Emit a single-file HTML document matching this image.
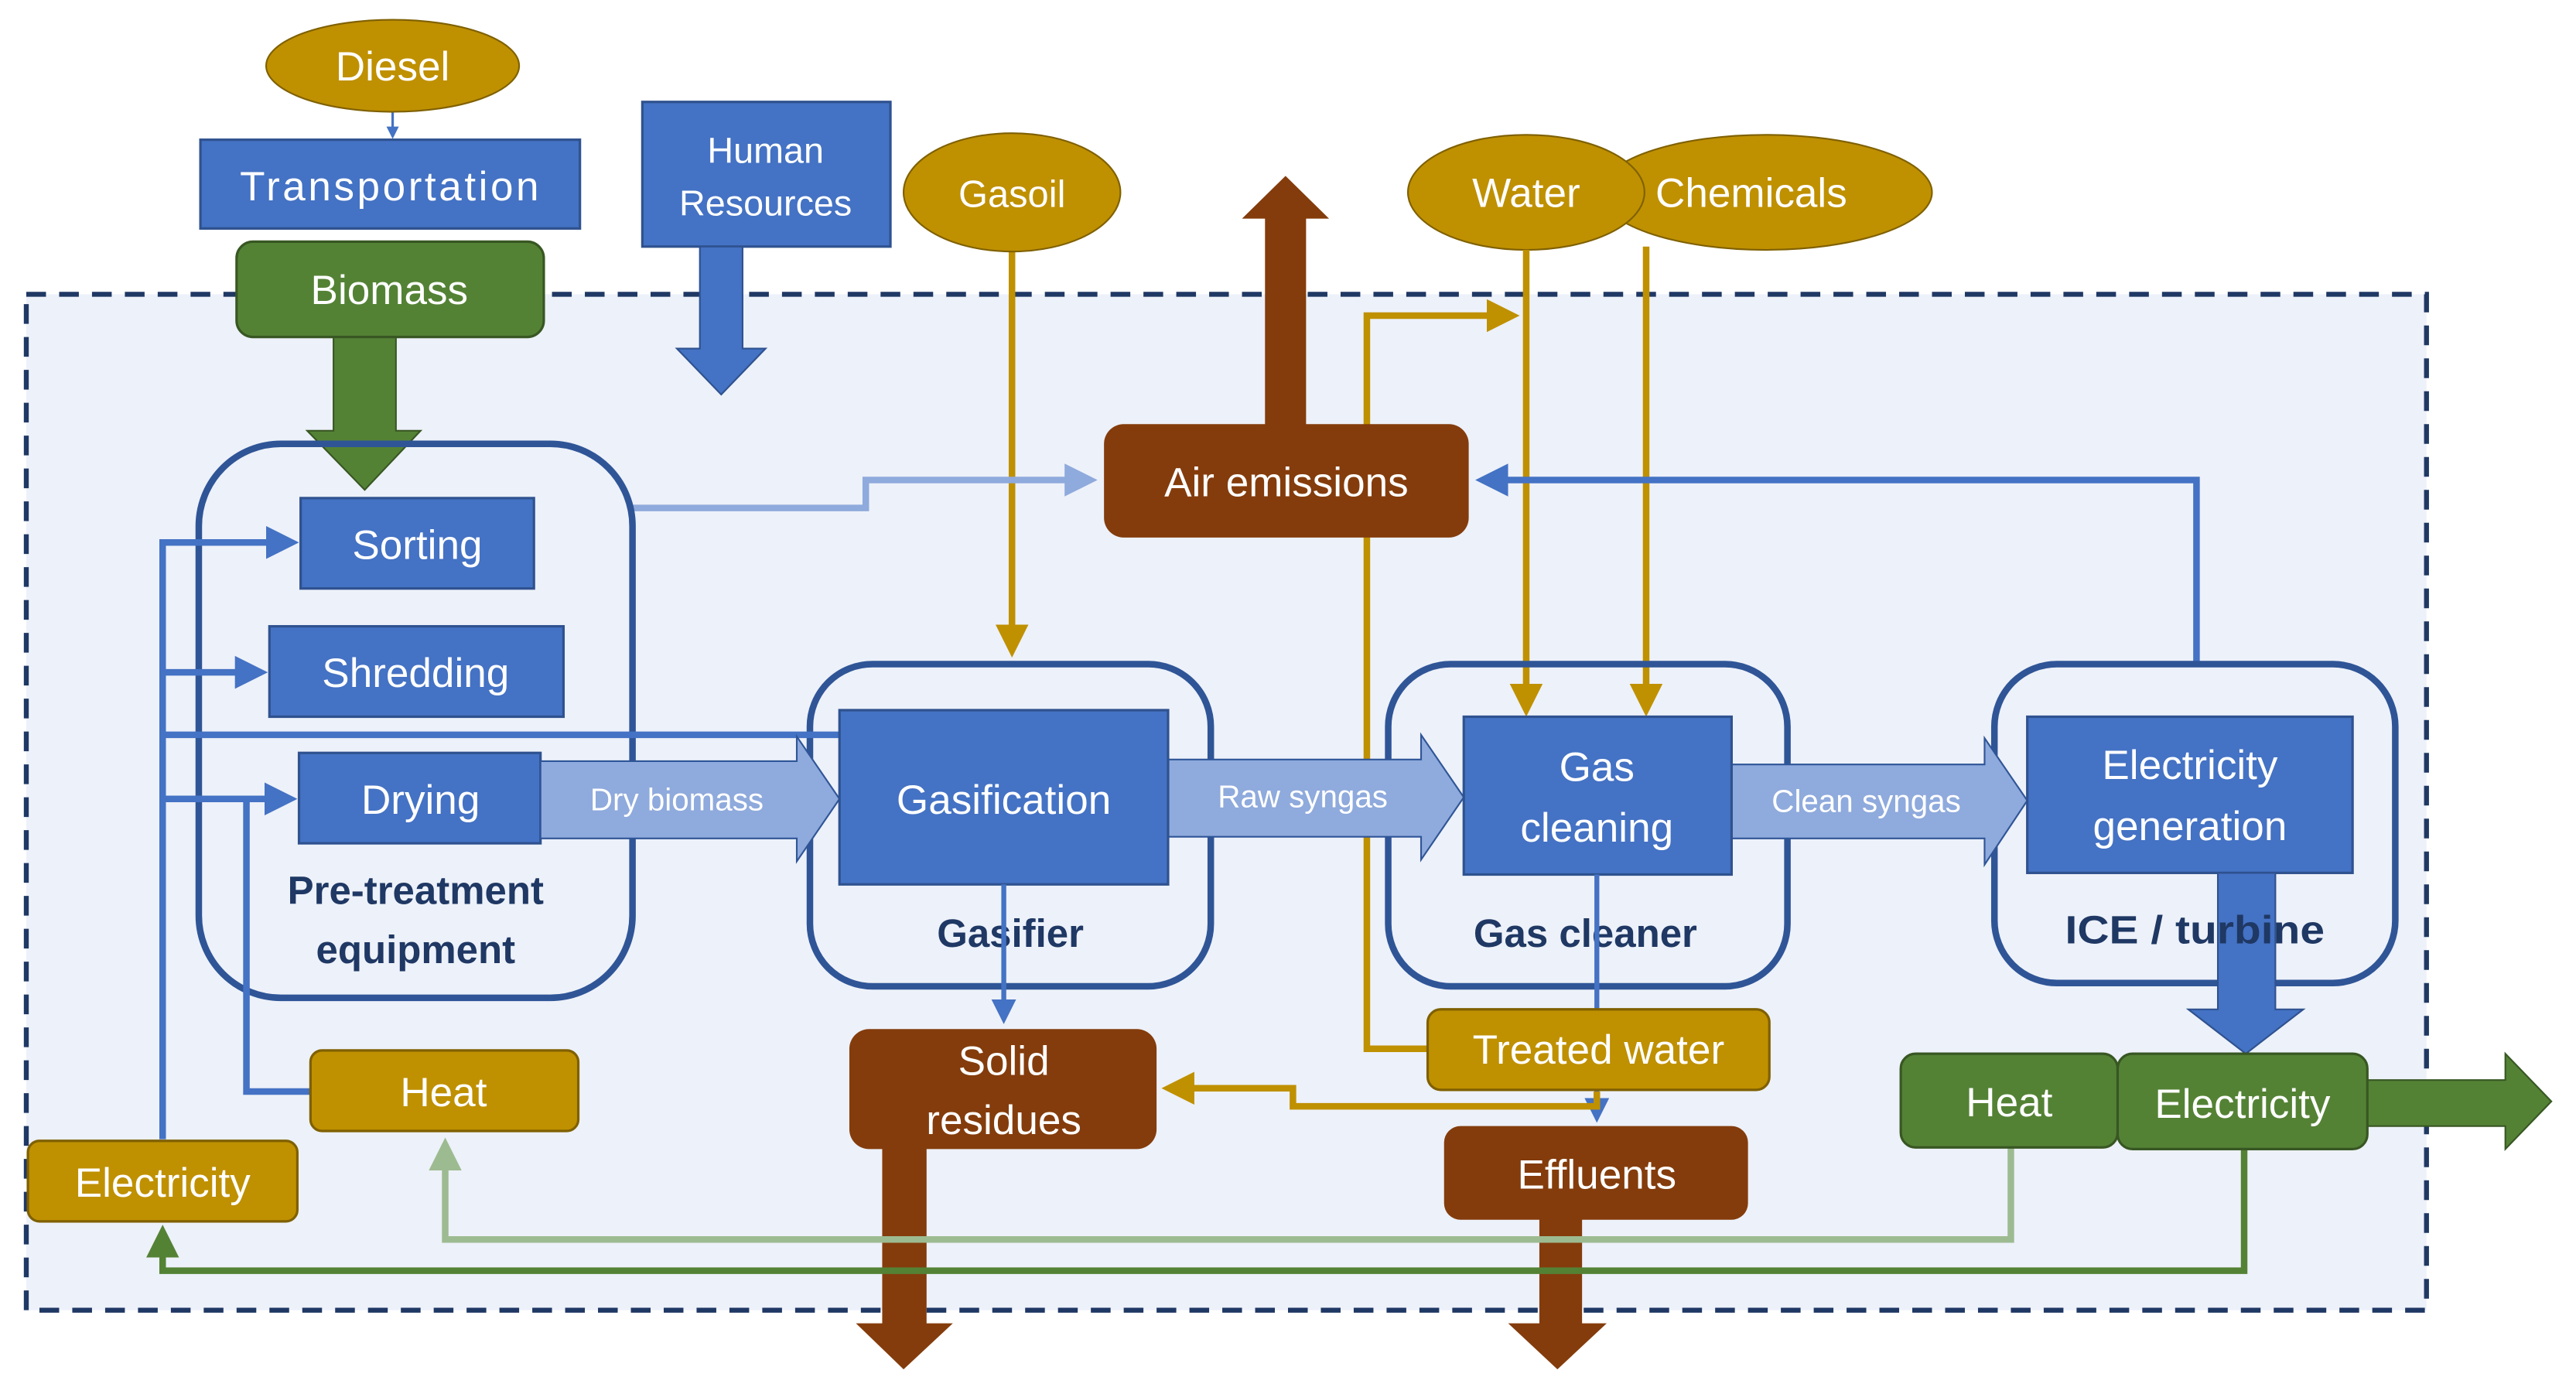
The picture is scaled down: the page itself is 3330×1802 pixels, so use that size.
<!DOCTYPE html>
<html><head><meta charset="utf-8"><style>html,body{margin:0;padding:0;background:#fff}svg{display:block}</style></head><body>
<svg width="3330" height="1802" viewBox="0 0 1568 848" preserveAspectRatio="none" xmlns="http://www.w3.org/2000/svg" font-family="'Liberation Sans', sans-serif">
<defs>
<marker id="ab" markerWidth="5" markerHeight="5" refX="4" refY="2.5" orient="auto" markerUnits="strokeWidth"><path d="M0,0 L5,2.5 L0,5 Z" fill="#4472c4"/></marker>
<marker id="ag" markerWidth="5" markerHeight="5" refX="4" refY="2.5" orient="auto" markerUnits="strokeWidth"><path d="M0,0 L5,2.5 L0,5 Z" fill="#bf9000"/></marker>
<marker id="al" markerWidth="5" markerHeight="5" refX="4" refY="2.5" orient="auto" markerUnits="strokeWidth"><path d="M0,0 L5,2.5 L0,5 Z" fill="#8faadc"/></marker>
<marker id="agr" markerWidth="5" markerHeight="5" refX="4" refY="2.5" orient="auto" markerUnits="strokeWidth"><path d="M0,0 L5,2.5 L0,5 Z" fill="#9dbb91"/></marker>
<marker id="adg" markerWidth="5" markerHeight="5" refX="4" refY="2.5" orient="auto" markerUnits="strokeWidth"><path d="M0,0 L5,2.5 L0,5 Z" fill="#548235"/></marker>
</defs>
<rect width="1568" height="848" fill="#fff"/>
<rect x="16" y="179" width="1461" height="618" fill="#edf1f9" stroke="#1f3864" stroke-width="3" stroke-dasharray="12,8"/>

<line x1="239" y1="68" x2="239" y2="83" stroke="#4472c4" stroke-width="1.5" marker-end="url(#ab)"/>
<ellipse cx="239" cy="40" rx="77" ry="28" fill="#bf9000" stroke="#7f6000" stroke-width="1"/>
<text x="239" y="49" font-size="25" fill="#fff" text-anchor="middle">Diesel</text>
<rect x="122" y="85" width="231" height="54" fill="#4472c4" stroke="#2f528f" stroke-width="1.5"/>
<text x="237" y="122" font-size="25" fill="#fff" text-anchor="middle" textLength="182">Transportation</text>
<rect x="391" y="62" width="151" height="88" fill="#4472c4" stroke="#2f528f" stroke-width="1.5"/>
<text x="466" y="99" font-size="22" fill="#fff" text-anchor="middle">Human</text>
<text x="466" y="131" font-size="22" fill="#fff" text-anchor="middle">Resources</text>
<path d="M426,150 H452 V212 H466 L439,240 L412,212 H426 Z" fill="#4472c4" stroke="#2f528f" stroke-width="1"/>

<line x1="616" y1="150" x2="616" y2="396" stroke="#bf9000" stroke-width="4" marker-end="url(#ag)"/>
<ellipse cx="1075" cy="117" rx="101" ry="35" fill="#bf9000" stroke="#7f6000" stroke-width="1"/>
<ellipse cx="929" cy="117" rx="72" ry="35" fill="#bf9000" stroke="#7f6000" stroke-width="1"/>
<text x="929" y="126" font-size="25" fill="#fff" text-anchor="middle">Water</text>
<text x="1066" y="126" font-size="25" fill="#fff" text-anchor="middle">Chemicals</text>
<ellipse cx="616" cy="117" rx="66" ry="36" fill="#bf9000" stroke="#7f6000" stroke-width="1"/>
<text x="616" y="126" font-size="23" fill="#fff" text-anchor="middle">Gasoil</text>
<line x1="929" y1="152" x2="929" y2="432" stroke="#bf9000" stroke-width="4" marker-end="url(#ag)"/>
<line x1="1002" y1="150" x2="1002" y2="432" stroke="#bf9000" stroke-width="4" marker-end="url(#ag)"/>
<polyline points="869,638 832,638 832,192 921,192" fill="none" stroke="#bf9000" stroke-width="4" marker-end="url(#ag)"/>

<path d="M770,260 V133 H756 L782.5,107 L809,133 H795 V260 Z" fill="#843c0c"/>
<polyline points="385,309 527,309 527,292 664,292" fill="none" stroke="#8faadc" stroke-width="4" marker-end="url(#al)"/>
<polyline points="1337,404 1337,292 902,292" fill="none" stroke="#4472c4" stroke-width="4" marker-end="url(#ab)"/>
<rect x="672" y="258" width="222" height="69" rx="12" fill="#843c0c"/>
<text x="783" y="302" font-size="25" fill="#fff" text-anchor="middle">Air emissions</text>

<path d="M203,200 H241 V262 H256 L222,298 L187,262 H203 Z" fill="#548235" stroke="#385723" stroke-width="1"/>
<rect x="144" y="147" width="187" height="58" rx="10" fill="#548235" stroke="#385723" stroke-width="1.5"/>
<text x="237" y="185" font-size="25" fill="#fff" text-anchor="middle">Biomass</text>

<rect x="121" y="270" width="264" height="337" rx="50" fill="none" stroke="#2f5597" stroke-width="4"/>
<rect x="493" y="404" width="244" height="196" rx="38" fill="none" stroke="#2f5597" stroke-width="4"/>
<rect x="845" y="404" width="243" height="196" rx="38" fill="none" stroke="#2f5597" stroke-width="4"/>
<rect x="1214" y="404" width="244" height="194" rx="38" fill="none" stroke="#2f5597" stroke-width="4"/>

<polyline points="99,693 99,330" fill="none" stroke="#4472c4" stroke-width="4"/>
<line x1="97" y1="330" x2="178" y2="330" stroke="#4472c4" stroke-width="4" marker-end="url(#ab)"/>
<line x1="97" y1="409" x2="159" y2="409" stroke="#4472c4" stroke-width="4" marker-end="url(#ab)"/>
<line x1="97" y1="486" x2="177" y2="486" stroke="#4472c4" stroke-width="4" marker-end="url(#ab)"/>
<line x1="97" y1="447" x2="511" y2="447" stroke="#4472c4" stroke-width="4"/>
<polyline points="189,664 150,664 150,486" fill="none" stroke="#4472c4" stroke-width="4"/>

<rect x="183" y="303" width="142" height="55" fill="#4472c4" stroke="#2f528f" stroke-width="1.5"/>
<text x="254" y="340" font-size="25" fill="#fff" text-anchor="middle">Sorting</text>
<rect x="164" y="381" width="179" height="55" fill="#4472c4" stroke="#2f528f" stroke-width="1.5"/>
<text x="253" y="418" font-size="25" fill="#fff" text-anchor="middle">Shredding</text>
<rect x="182" y="458" width="147" height="55" fill="#4472c4" stroke="#2f528f" stroke-width="1.5"/>
<text x="256" y="495" font-size="25" fill="#fff" text-anchor="middle">Drying</text>
<text x="253" y="550" font-size="24" font-weight="bold" fill="#1f3864" text-anchor="middle">Pre-treatment</text>
<text x="253" y="586" font-size="24" font-weight="bold" fill="#1f3864" text-anchor="middle">equipment</text>

<path d="M329,463 H485 V448 L511,486 L485,524 V510 H329 Z" fill="#8faadc" stroke="#2f5597" stroke-width="1"/>
<text x="412" y="493" font-size="19" fill="#fff" text-anchor="middle">Dry biomass</text>
<path d="M711,462 H865 V447 L891,485 L865,523 V509 H711 Z" fill="#8faadc" stroke="#2f5597" stroke-width="1"/>
<text x="793" y="491" font-size="19" fill="#fff" text-anchor="middle">Raw syngas</text>
<path d="M1054,465 H1208 V449 L1234,487 L1208,526 V510 H1054 Z" fill="#8faadc" stroke="#2f5597" stroke-width="1"/>
<text x="1136" y="494" font-size="19" fill="#fff" text-anchor="middle">Clean syngas</text>

<rect x="511" y="432" width="200" height="106" fill="#4472c4" stroke="#2f528f" stroke-width="1.5"/>
<text x="611" y="495" font-size="25" fill="#fff" text-anchor="middle">Gasification</text>
<text x="615" y="576" font-size="24" font-weight="bold" fill="#1f3864" text-anchor="middle">Gasifier</text>
<line x1="611" y1="538" x2="611" y2="620" stroke="#4472c4" stroke-width="3" marker-end="url(#ab)"/>

<rect x="891" y="436" width="163" height="96" fill="#4472c4" stroke="#2f528f" stroke-width="1.5"/>
<text x="972" y="475" font-size="25" fill="#fff" text-anchor="middle">Gas</text>
<text x="972" y="512" font-size="25" fill="#fff" text-anchor="middle">cleaning</text>
<text x="965" y="576" font-size="24" font-weight="bold" fill="#1f3864" text-anchor="middle">Gas cleaner</text>
<line x1="972" y1="532" x2="972" y2="680" stroke="#4472c4" stroke-width="3" marker-end="url(#ab)"/>

<rect x="1234" y="436" width="198" height="95" fill="#4472c4" stroke="#2f528f" stroke-width="1.5"/>
<text x="1333" y="474" font-size="25" fill="#fff" text-anchor="middle">Electricity</text>
<text x="1333" y="511" font-size="25" fill="#fff" text-anchor="middle">generation</text>
<path d="M1350,531 H1385 V614 H1402 L1367,641 L1332,614 H1350 Z" fill="#4472c4" stroke="#2f528f" stroke-width="1"/>
<text x="1257" y="574" font-size="24" font-weight="bold" fill="#1f3864" textLength="158" lengthAdjust="spacingAndGlyphs">ICE / turbine</text>

<polyline points="972,664 972,673 787,673 787,662 711,662" fill="none" stroke="#bf9000" stroke-width="4" marker-end="url(#ag)"/>
<rect x="869" y="614" width="208" height="49" rx="8" fill="#bf9000" stroke="#7f6000" stroke-width="1.5"/>
<text x="973" y="647" font-size="25" fill="#fff" text-anchor="middle">Treated water</text>

<path d="M537,695 H564 V805 H580 L550,833 L521,805 H537 Z" fill="#843c0c"/>
<rect x="517" y="626" width="187" height="73" rx="12" fill="#843c0c"/>
<text x="611" y="654" font-size="25" fill="#fff" text-anchor="middle">Solid</text>
<text x="611" y="690" font-size="25" fill="#fff" text-anchor="middle">residues</text>
<path d="M937,740 H963 V805 H978 L948,833 L918,805 H937 Z" fill="#843c0c"/>
<rect x="879" y="685" width="185" height="57" rx="10" fill="#843c0c"/>
<text x="972" y="723" font-size="25" fill="#fff" text-anchor="middle">Effluents</text>

<polyline points="1224,698 1224,754 271,754 271,696" fill="none" stroke="#9dbb91" stroke-width="4" marker-end="url(#agr)"/>
<polyline points="1366,699 1366,773 99,773 99,749" fill="none" stroke="#548235" stroke-width="4" marker-end="url(#adg)"/>

<rect x="189" y="639" width="163" height="49" rx="7" fill="#bf9000" stroke="#7f6000" stroke-width="1.5"/>
<text x="270" y="673" font-size="25" fill="#fff" text-anchor="middle">Heat</text>
<rect x="17" y="694" width="164" height="49" rx="7" fill="#bf9000" stroke="#7f6000" stroke-width="1.5"/>
<text x="99" y="728" font-size="25" fill="#fff" text-anchor="middle">Electricity</text>

<path d="M1441,657 H1525 V641 L1553,670 L1525,699 V685 H1441 Z" fill="#548235" stroke="#385723" stroke-width="1"/>
<rect x="1157" y="641" width="132" height="57" rx="9" fill="#548235" stroke="#385723" stroke-width="1.5"/>
<text x="1223" y="679" font-size="25" fill="#fff" text-anchor="middle">Heat</text>
<rect x="1289" y="641" width="152" height="58" rx="9" fill="#548235" stroke="#385723" stroke-width="1.5"/>
<text x="1365" y="680" font-size="25" fill="#fff" text-anchor="middle">Electricity</text>
</svg>
</body></html>
